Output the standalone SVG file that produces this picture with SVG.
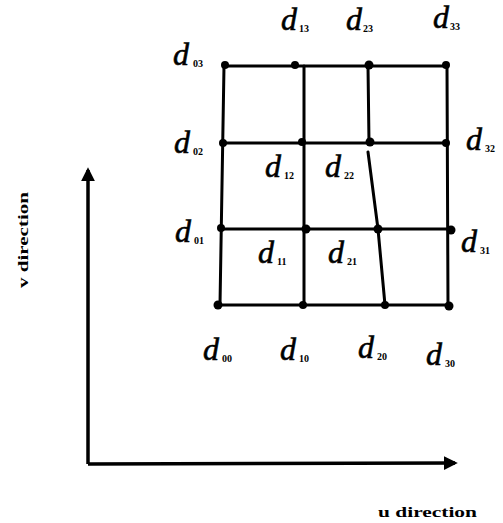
<svg xmlns="http://www.w3.org/2000/svg" width="503" height="523" viewBox="0 0 503 523">
<style>
.ln{stroke:#000;stroke-width:3;fill:none;stroke-linecap:round}
.ax{stroke:#000;stroke-width:3.5;fill:none}
.dot{fill:#000}
.d{font-family:"Liberation Serif",serif;font-style:italic;font-size:32px;fill:#000;stroke:#000;stroke-width:0.6}
.s{font-family:"Liberation Serif",serif;font-size:10px;font-weight:bold;fill:#000}
.cap{font-family:"Liberation Serif",serif;font-size:14px;font-weight:bold;fill:#000}
</style>
<defs>
<marker id="ah" markerWidth="4" markerHeight="4" refX="3.2" refY="2" orient="auto" markerUnits="strokeWidth">
<path d="M0,0 L4,2 L0,4 Z" fill="#000"/>
</marker>
</defs>
<rect width="503" height="523" fill="#fff"/>
<g id="connectors">
<polyline class="ax" points="88,464 88,170" marker-end="url(#ah)"/>
<polyline class="ax" points="88,464 455,463" marker-end="url(#ah)"/>
<line class="ln" x1="225" y1="66" x2="447" y2="66"/>
<line class="ln" x1="223" y1="143" x2="447" y2="143"/>
<line class="ln" x1="221" y1="229" x2="450" y2="229"/>
<line class="ln" x1="218" y1="305" x2="449" y2="305"/>
<line class="ln" x1="224" y1="66" x2="220" y2="305"/>
<line class="ln" x1="304" y1="66" x2="304" y2="305"/>
<line class="ln" x1="368" y1="66" x2="369" y2="143"/>
<polyline class="ln" points="368,152 378,229 385,305"/>
<line class="ln" x1="447" y1="66" x2="448" y2="305"/>
</g>
<g id="points">
<circle class="dot" cx="225" cy="65" r="4"/>
<circle class="dot" cx="295" cy="65" r="4"/>
<circle class="dot" cx="369" cy="65" r="4.5"/>
<circle class="dot" cx="446" cy="65" r="4"/>
<circle class="dot" cx="223" cy="143" r="4"/>
<circle class="dot" cx="302" cy="142" r="4"/>
<circle class="dot" cx="370" cy="142" r="4.5"/>
<circle class="dot" cx="446" cy="143" r="4"/>
<circle class="dot" cx="221" cy="228" r="4"/>
<circle class="dot" cx="306" cy="229" r="4.5"/>
<circle class="dot" cx="378" cy="229" r="4.5"/>
<circle class="dot" cx="451" cy="230" r="4.5"/>
<circle class="dot" cx="218" cy="305" r="4.5"/>
<circle class="dot" cx="303" cy="305" r="4"/>
<circle class="dot" cx="385" cy="305" r="4"/>
<circle class="dot" cx="449" cy="306" r="4.5"/>
</g>
<g id="labels">
<g id="d03"><text class="d" x="173" y="65">d</text><text class="s" x="193" y="67">03</text></g>
<g id="d13"><text class="d" x="281" y="30">d</text><text class="s" x="299" y="32">13</text></g>
<g id="d23"><text class="d" x="346" y="30">d</text><text class="s" x="363" y="32">23</text></g>
<g id="d33"><text class="d" x="433" y="28">d</text><text class="s" x="450" y="30">33</text></g>
<g id="d02"><text class="d" x="174" y="153">d</text><text class="s" x="193" y="155">02</text></g>
<g id="d12"><text class="d" x="265" y="177">d</text><text class="s" x="284" y="179">12</text></g>
<g id="d22"><text class="d" x="325" y="177">d</text><text class="s" x="344" y="179">22</text></g>
<g id="d32"><text class="d" x="466" y="150">d</text><text class="s" x="485" y="152">32</text></g>
<g id="d01"><text class="d" x="175" y="242">d</text><text class="s" x="194" y="244">01</text></g>
<g id="d11"><text class="d" x="258" y="263">d</text><text class="s" x="277" y="265">11</text></g>
<g id="d21"><text class="d" x="328" y="263">d</text><text class="s" x="347" y="265">21</text></g>
<g id="d31"><text class="d" x="461" y="252">d</text><text class="s" x="480" y="254">31</text></g>
<g id="d00"><text class="d" x="203" y="360">d</text><text class="s" x="222" y="362">00</text></g>
<g id="d10"><text class="d" x="280" y="360">d</text><text class="s" x="299" y="362">10</text></g>
<g id="d20"><text class="d" x="358" y="358">d</text><text class="s" x="377" y="360">20</text></g>
<g id="d30"><text class="d" x="426" y="365">d</text><text class="s" x="445" y="367">30</text></g>
</g>
<g id="axis-labels">
<text class="cap" x="378" y="517" textLength="99" lengthAdjust="spacingAndGlyphs">u direction</text>
<text class="cap" transform="translate(28,288) rotate(-90)" x="0" y="0" textLength="96" lengthAdjust="spacingAndGlyphs">v direction</text>
</g>
</svg>
